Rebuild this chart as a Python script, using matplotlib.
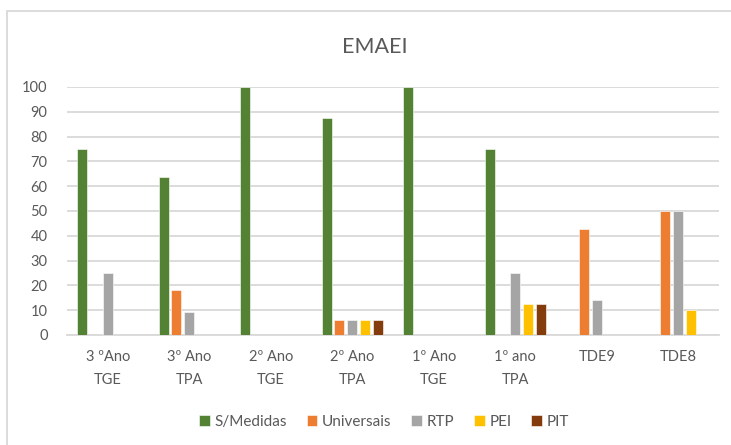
import numpy as np
import matplotlib.pyplot as plt
from matplotlib.patches import Rectangle

plt.rcParams["font.family"] = ["Lato", "DejaVu Sans"]

CATEGORIES = ["3 ºAno\nTGE", "3º Ano\nTPA", "2º Ano\nTGE", "2º Ano\nTPA",
              "1º Ano\nTGE", "1º ano\nTPA", "TDE9", "TDE8"]
SERIES = ["S/Medidas", "Universais", "RTP", "PEI", "PIT"]
COLORS = ["#548235", "#ED7D31", "#A5A5A5", "#FFC000", "#843C0C"]

S_MEDIDAS = [75, 63.6, 100, 87.5, 100, 75, 0, 0]
UNIVERSAIS = [0, 18.2, 0, 6.25, 0, 0, 42.9, 50]
RTP = [25, 9.1, 0, 6.25, 0, 25, 14.3, 50]
PEI = [0, 0, 0, 6.25, 0, 12.5, 0, 10]
PIT = [0, 0, 0, 6.25, 0, 12.5, 0, 0]

TEXT = "#595959"
GRID = "#D9D9D9"


def main():
    fig = plt.figure(figsize=(7.31, 4.45), dpi=100)
    # chart frame (right/bottom edges run off the canvas)
    fig.patches.append(Rectangle((7 / 731, -0.05), 1.1, 1 - 11 / 445 + 0.05,
                                 transform=fig.transFigure, fill=False,
                                 edgecolor=GRID, lw=1.3))

    ax = fig.add_axes([67 / 731, 1 - 335 / 445, 652 / 731, 248 / 445])
    x = np.arange(len(CATEGORIES))
    step, width = 0.157, 0.1225
    for i, (name, vals, col) in enumerate(zip(SERIES, [S_MEDIDAS, UNIVERSAIS, RTP, PEI, PIT], COLORS)):
        ax.bar(x + (i - 2) * step, vals, width, color=col, label=name,
               edgecolor="white", linewidth=0.4, zorder=3)

    ax.set_xlim(-0.5, len(CATEGORIES) - 0.5)
    ax.set_ylim(0, 100)
    ax.set_yticks(range(0, 101, 10))
    ax.set_xticks(x)
    ax.set_xticklabels(CATEGORIES, linespacing=1.75)
    ax.tick_params(axis="both", length=0, colors=TEXT, labelsize=10.5)
    ax.tick_params(axis="x", pad=11)
    ax.tick_params(axis="y", pad=14)
    ax.grid(axis="y", color=GRID, lw=1.3, zorder=0)
    for side in ["top", "right", "left"]:
        ax.spines[side].set_visible(False)
    ax.spines["bottom"].set_color(GRID)
    ax.spines["bottom"].set_linewidth(1.3)

    fig.text(375 / 731, 1 - 47 / 445, "EMAEI", ha="center", va="center",
             fontsize=15.5, color=TEXT)

    leg = fig.legend(loc="center", bbox_to_anchor=(384 / 731, 1 - 422 / 445),
                     ncol=5, frameon=False, fontsize=11, handlelength=0.7,
                     handleheight=0.7, handletextpad=0.3, columnspacing=1.3)
    for t in leg.get_texts():
        t.set_color(TEXT)

    fig.savefig("out.png", dpi=100)


if __name__ == "__main__":
    main()
